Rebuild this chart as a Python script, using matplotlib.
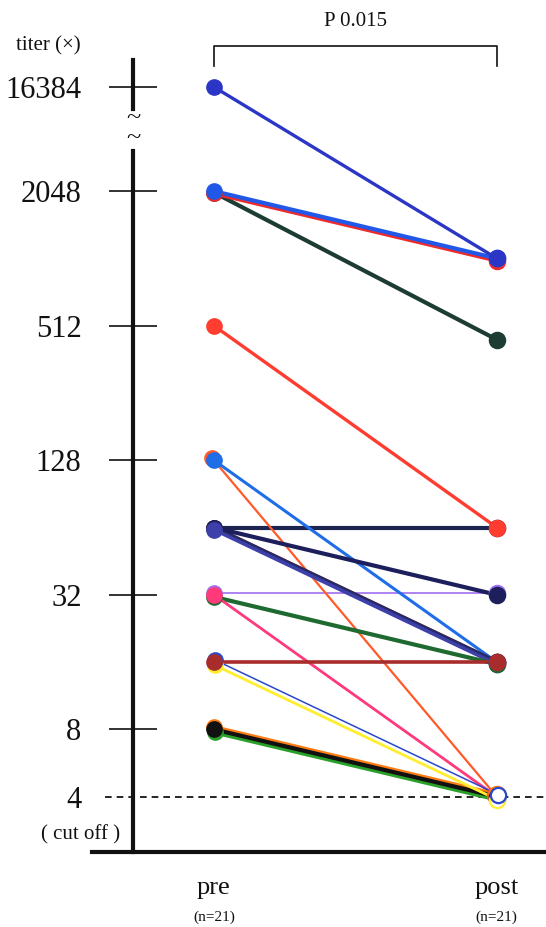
import numpy as np
import matplotlib
matplotlib.use("Agg")
import matplotlib.pyplot as plt
import matplotlib.transforms as mtransforms

# === DATA: antibody titer per subject, before and after ===
groups = ["pre", "post"]
group_n = ["(n=21)", "(n=21)"]
pre_titer = [2048, 2048, 2048, 16384, 32, 64, 512, 128, 128, 64, 64,
             64, 64, 32, 32, 8, 8, 8, 16, 16, 16]
post_titer = [450, 1024, 1024, 1024, 32, 64, 64, 4, 16, 16, 16,
              32, 16, 16, 4, 4, 4, 4, 4, 4, 16]
ytick_values = [4, 8, 32, 128, 512, 2048, 16384]
ytick_labels = ["4", "8", "32", "128", "512", "2048", "16384"]
CUTOFF = 4
P_TEXT = "P 0.015"

# one colour / width per subject line (draw order = list order)
line_colors = ["#1d3c34", "#f02a2a", "#2258e8", "#2b36c6", "#a070f0", "#1b2550",
               "#ff3c30", "#ff5a28", "#1f6ee8", "#8a2424", "#232a66", "#1c1f5c",
               "#3d40a8", "#1e6a30", "#ff3a7a", "#2aa02a", "#ff7a10", "#111111",
               "#ffee30", "#2a48c8", "#a82c2c"]
line_widths = [3.0, 3.0, 3.0, 2.4, 1.2, 3.0, 2.4, 1.6, 2.2, 3.2, 3.0, 3.0,
               2.6, 3.0, 2.0, 3.4, 3.0, 3.0, 2.0, 1.1, 2.6]
# small hand-drawn style nudges (points) so overlapping lines stay visible
nudge = [(0, -1.0), (0, -1.6), (0, 0), (0, 0), (0, 1.6), (0, 0),
         (0, 0), (-1.2, 1.4), (0, 0), (0, 0), (0, 0), (0, 0),
         (0, -1.5), (0, -1.5), (0, 0), (0.5, -2.0), (0, 1.6), (0, 0),
         (0.5, -2.2), (1.0, 1.4), (0, 0)]

# === BROKEN LOG2 SCALE (values above 2048 squeezed) ===
BREAK_AT = 11.0
SQUEEZE = 0.516


def fwd(v):
    lv = np.log2(np.clip(np.asarray(v, dtype=float), 1e-9, None))
    return np.where(lv > BREAK_AT, BREAK_AT + (lv - BREAK_AT) * SQUEEZE, lv)


def inv(lv):
    lv = np.asarray(lv, dtype=float)
    return np.where(lv > BREAK_AT, 2 ** (BREAK_AT + (lv - BREAK_AT) / SQUEEZE), 2 ** lv)


plt.rcParams["font.family"] = ["Liberation Serif", "DejaVu Serif"]

W, H = 546, 927
fig = plt.figure(figsize=(W / 100, H / 100), dpi=100)
ax = fig.add_axes([133 / W, 1 - 852 / H, 413 / W, 792 / H])
ax.set_yscale("function", functions=(fwd, inv))
ax.set_xlim(-0.286, 1.174)
ax.set_ylim(float(inv(1.177)), float(inv(12.949)))

shifted = [mtransforms.offset_copy(ax.transData, fig=fig, x=dx, y=dy, units="points")
           for dx, dy in nudge]

# subject lines
for i in range(len(pre_titer)):
    ax.plot([0, 1], [pre_titer[i], post_titer[i]], color=line_colors[i],
            lw=line_widths[i], solid_capstyle="round", transform=shifted[i],
            zorder=3 + i * 0.01)

# markers: pre then post, later entries sit on top
for i in range(len(pre_titer)):
    ax.plot(0, pre_titer[i], "o", ms=11, color=line_colors[i], mec=line_colors[i],
            transform=shifted[i], zorder=5 + i * 0.01)
for i in range(len(post_titer)):
    face = "white" if post_titer[i] <= CUTOFF else line_colors[i]
    ax.plot(1, post_titer[i], "o", ms=11, mfc=face, mec=line_colors[i], mew=1.6,
            transform=shifted[i], zorder=6 + i * 0.01)

# cut-off line
ax.axhline(CUTOFF, xmin=-0.068, xmax=1.0, color="black", lw=1.2,
           ls=(0, (4, 3)), clip_on=False, zorder=2)

# axes frame drawn by hand (broken y axis, bottom line runs past the axis)
for sp in ax.spines.values():
    sp.set_visible(False)
ax.axvline(ax.get_xlim()[0], ymin=0, ymax=0.885, color="#111111", lw=3.0,
           clip_on=False, zorder=4)
ax.axvline(ax.get_xlim()[0], ymin=0.938, ymax=1.0, color="#111111", lw=3.0,
           clip_on=False, zorder=4)
ax.plot([-0.10, 1.0], [0, 0], transform=ax.transAxes, color="#111111", lw=3.0,
        clip_on=False, zorder=4)
for yy in (0.927, 0.901):
    ax.text(0, yy, "~", transform=ax.transAxes, ha="center", va="center",
            fontsize=19, color="#111111")

# y ticks
ax.set_yticks(ytick_values)
ax.set_yticklabels(ytick_labels, fontsize=22)
ax.yaxis.set_minor_locator(matplotlib.ticker.NullLocator())
ax.tick_params(axis="y", direction="inout", length=34, width=1.2, pad=20,
               color="#111111", labelcolor="#111111")
ax.yaxis.get_major_ticks()[0].tick1line.set_visible(False)
ax.set_xticks([])

ax.text(-0.128, 0.022, "( cut off )", transform=ax.transAxes, ha="center",
        va="center", fontsize=15, color="#111111")
ax.text(-0.205, 1.018, "titer (\u00d7)", transform=ax.transAxes, ha="center",
        va="center", fontsize=15, color="#111111")

# group labels under the axis
xform = mtransforms.blended_transform_factory(ax.transData, ax.transAxes)
for x, name, n in zip([0, 1], groups, group_n):
    ax.text(x, -0.045, name, transform=xform, ha="center", va="center",
            fontsize=19, color="#111111")
    ax.text(x, -0.082, n, transform=xform, ha="center", va="center",
            fontsize=11, color="#111111")

# significance bracket
ax.plot([0, 0, 1, 1], [0.9924, 1.0177, 1.0177, 0.9924], transform=xform,
        color="#111111", lw=1.2, clip_on=False)
ax.text(0.5, 1.048, P_TEXT, transform=xform, ha="center", va="center",
        fontsize=15, color="#111111")

fig.savefig("out.png", dpi=100)
